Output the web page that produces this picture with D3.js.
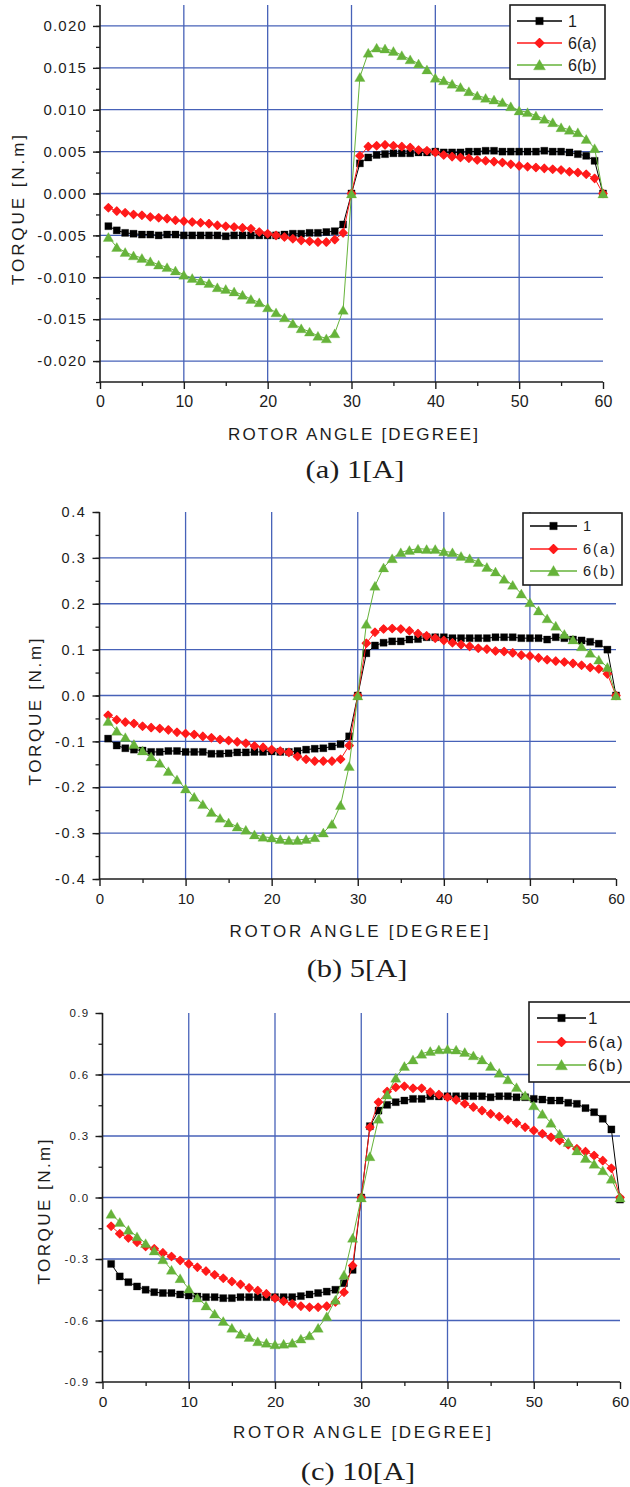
<!DOCTYPE html>
<html>
<head>
<meta charset="utf-8">
<script src="https://cdn.jsdelivr.net/npm/d3@7"></script>
<style>
  body { margin: 0; background: #fff; }
  svg { display: block; }
</style>
</head>
<body>
<div id="chart"></div>
<script>
// rotor angle in degrees (same for every curve)
const angles = [1,2,3,4,5,6,7,8,9,10,11,12,13,14,15,16,17,18,19,20,
  21,22,23,24,25,26,27,28,29,30,31,32,33,34,35,36,37,38,39,40,
  41,42,43,44,45,46,47,48,49,50,51,52,53,54,55,56,57,58,59,60];

const seriesNames = ['1', '6(a)', '6(b)'];

// (a) 1[A]
const torqueA1 = [-0.0039,-0.0044,-0.0047,-0.0048,-0.0049,-0.0049,-0.0050,-0.0049,-0.0049,-0.0050,
  -0.0050,-0.0050,-0.0050,-0.0050,-0.0051,-0.0050,-0.0050,-0.0050,-0.0050,-0.0050,
  -0.0050,-0.0049,-0.0048,-0.0048,-0.0047,-0.0047,-0.0046,-0.0045,-0.0037,0.0000,
  0.0036,0.0043,0.0046,0.0047,0.0048,0.0048,0.0048,0.0049,0.0049,0.0050,
  0.0049,0.0049,0.0049,0.0050,0.0050,0.0051,0.0051,0.0050,0.0050,0.0050,
  0.0050,0.0050,0.0051,0.0050,0.0050,0.0049,0.0047,0.0045,0.0039,0.0000];
const torqueA6a = [-0.0017,-0.0021,-0.0023,-0.0025,-0.0026,-0.0028,-0.0029,-0.0030,-0.0032,-0.0033,
  -0.0034,-0.0035,-0.0036,-0.0038,-0.0039,-0.0040,-0.0041,-0.0042,-0.0046,-0.0048,
  -0.0050,-0.0052,-0.0054,-0.0056,-0.0057,-0.0058,-0.0058,-0.0055,-0.0047,0.0000,
  0.0045,0.0056,0.0057,0.0058,0.0057,0.0056,0.0055,0.0052,0.0051,0.0049,
  0.0046,0.0044,0.0043,0.0042,0.0040,0.0039,0.0038,0.0037,0.0035,0.0033,
  0.0032,0.0031,0.0030,0.0029,0.0028,0.0026,0.0025,0.0023,0.0018,0.0000];
const torqueA6b = [-0.0052,-0.0064,-0.0070,-0.0074,-0.0077,-0.0081,-0.0085,-0.0088,-0.0092,-0.0097,
  -0.0101,-0.0104,-0.0107,-0.0112,-0.0114,-0.0117,-0.0121,-0.0126,-0.0130,-0.0136,
  -0.0142,-0.0148,-0.0155,-0.0161,-0.0165,-0.0170,-0.0173,-0.0167,-0.0139,0.0000,
  0.0139,0.0168,0.0174,0.0173,0.0170,0.0165,0.0160,0.0155,0.0148,0.0138,
  0.0135,0.0131,0.0127,0.0122,0.0117,0.0114,0.0112,0.0109,0.0104,0.0099,
  0.0097,0.0093,0.0089,0.0085,0.0079,0.0076,0.0073,0.0065,0.0054,0.0000];

// (b) 5[A]
const torqueB1 = [-0.094,-0.109,-0.115,-0.118,-0.120,-0.123,-0.123,-0.121,-0.121,-0.123,
  -0.123,-0.123,-0.127,-0.127,-0.126,-0.124,-0.124,-0.123,-0.123,-0.122,
  -0.123,-0.123,-0.121,-0.118,-0.116,-0.115,-0.111,-0.106,-0.089,0.000,
  0.092,0.109,0.115,0.118,0.118,0.122,0.123,0.127,0.127,0.127,
  0.125,0.125,0.125,0.125,0.125,0.127,0.127,0.127,0.125,0.125,
  0.125,0.122,0.127,0.125,0.122,0.120,0.117,0.113,0.100,0.000];
const torqueB6a = [-0.043,-0.053,-0.058,-0.061,-0.067,-0.070,-0.072,-0.075,-0.080,-0.083,
  -0.085,-0.089,-0.092,-0.096,-0.098,-0.101,-0.104,-0.110,-0.113,-0.118,
  -0.121,-0.124,-0.133,-0.139,-0.143,-0.143,-0.143,-0.139,-0.109,0.000,
  0.114,0.138,0.145,0.146,0.145,0.141,0.135,0.130,0.125,0.120,
  0.115,0.111,0.107,0.103,0.101,0.097,0.096,0.093,0.088,0.086,
  0.082,0.078,0.075,0.073,0.070,0.066,0.061,0.058,0.047,0.000];
const torqueB6b = [-0.056,-0.077,-0.091,-0.106,-0.120,-0.133,-0.147,-0.165,-0.183,-0.203,
  -0.221,-0.237,-0.254,-0.267,-0.277,-0.286,-0.293,-0.303,-0.308,-0.310,
  -0.313,-0.315,-0.315,-0.313,-0.309,-0.299,-0.280,-0.239,-0.154,0.000,
  0.156,0.239,0.279,0.299,0.312,0.317,0.320,0.319,0.319,0.314,
  0.312,0.304,0.299,0.291,0.280,0.270,0.254,0.241,0.222,0.203,
  0.185,0.168,0.152,0.134,0.122,0.107,0.093,0.078,0.062,0.000];

// (c) 10[A]
const torqueC1 = [-0.324,-0.385,-0.413,-0.434,-0.450,-0.462,-0.466,-0.466,-0.473,-0.478,
  -0.483,-0.486,-0.486,-0.491,-0.491,-0.486,-0.486,-0.486,-0.486,-0.486,
  -0.486,-0.486,-0.481,-0.473,-0.466,-0.459,-0.450,-0.418,-0.353,0.000,
  0.348,0.424,0.452,0.465,0.473,0.481,0.481,0.494,0.493,0.494,
  0.494,0.494,0.494,0.494,0.489,0.494,0.494,0.489,0.489,0.481,
  0.478,0.473,0.473,0.462,0.457,0.436,0.416,0.384,0.332,-0.010];
const torqueC6a = [-0.140,-0.177,-0.197,-0.218,-0.239,-0.250,-0.270,-0.288,-0.307,-0.324,
  -0.340,-0.359,-0.377,-0.394,-0.410,-0.424,-0.441,-0.454,-0.470,-0.491,
  -0.506,-0.519,-0.530,-0.535,-0.535,-0.530,-0.510,-0.462,-0.332,0.000,
  0.343,0.465,0.517,0.538,0.543,0.533,0.533,0.514,0.502,0.489,
  0.476,0.457,0.441,0.424,0.408,0.395,0.379,0.364,0.343,0.327,
  0.311,0.294,0.278,0.257,0.238,0.224,0.205,0.180,0.143,0.000];
const torqueC6b = [-0.080,-0.120,-0.158,-0.190,-0.223,-0.259,-0.302,-0.353,-0.394,-0.445,
  -0.489,-0.527,-0.567,-0.603,-0.636,-0.665,-0.681,-0.702,-0.709,-0.717,
  -0.714,-0.709,-0.689,-0.673,-0.636,-0.580,-0.499,-0.377,-0.197,0.000,
  0.201,0.384,0.502,0.584,0.641,0.673,0.701,0.714,0.722,0.724,
  0.721,0.709,0.693,0.673,0.641,0.608,0.576,0.538,0.498,0.449,
  0.408,0.364,0.311,0.270,0.229,0.192,0.164,0.132,0.091,0.000];

const angleTicks = [0, 10, 20, 30, 40, 50, 60];
const torqueTicksA = [-0.020, -0.015, -0.010, -0.005, 0.000, 0.005, 0.010, 0.015, 0.020];
const torqueTicksB = [-0.4, -0.3, -0.2, -0.1, 0.0, 0.1, 0.2, 0.3, 0.4];
const torqueTicksC = [-0.9, -0.6, -0.3, 0.0, 0.3, 0.6, 0.9];
const captions = ['(a) 1[A]', '(b) 5[A]', '(c) 10[A]'];

const W = 630, H = 1487;
const gridColor = '#4762b8';
const inkColor = '#1c1c1c';
const colors = ['#000000', '#ff1a1a', '#66b33a'];

const locale = d3.formatLocale({decimal: '.', thousands: ',', grouping: [3], currency: ['', ''], minus: '-'});

const panels = [
  { series: [torqueA1, torqueA6a, torqueA6b], ticks: torqueTicksA, domain: [-0.0225, 0.0225], minor: 0.0025,
    fmt: locale.format('.3f'), caption: captions[0],
    x0: 100, x1: 603, yTop: 5, yBot: 382, tickFont: 15, tickLs: 1.2, xTickFont: 16,
    yTitle: { x: 24, cy: 210, len: 150 }, xTitle: { cx: 353, y: 440, len: 250 }, cap: { cx: 355, y: 478, sx: 1.22 },
    legend: { x: 510, y: 5, w: 95, h: 74, rows: [16, 38, 60], l0: 7, l1: 52, tx: 58, font: 16, ls: 0 } },
  { series: [torqueB1, torqueB6a, torqueB6b], ticks: torqueTicksB, domain: [-0.4, 0.4], minor: 0.05,
    fmt: locale.format('.1f'), caption: captions[1],
    x0: 99.5, x1: 616, yTop: 512, yBot: 879, tickFont: 14.5, tickLs: 1.6, xTickFont: 15,
    yTitle: { x: 41, cy: 712, len: 147 }, xTitle: { cx: 359, y: 937, len: 259 }, cap: { cx: 357, y: 977, sx: 1.22 },
    legend: { x: 523, y: 513, w: 99, h: 72, rows: [13, 36, 58], l0: 7, l1: 54, tx: 60, font: 14.5, ls: 2 } },
  { series: [torqueC1, torqueC6a, torqueC6b], ticks: torqueTicksC, domain: [-0.9, 0.9], minor: 0.15,
    fmt: locale.format('.1f'), caption: captions[2],
    x0: 102.5, x1: 620, yTop: 1013, yBot: 1382, tickFont: 11.5, tickLs: 1.3, xTickFont: 15.5,
    yTitle: { x: 50, cy: 1212, len: 145 }, xTitle: { cx: 362, y: 1438, len: 258 }, cap: { cx: 358, y: 1480, sx: 1.22 },
    legend: { x: 529, y: 1002, w: 110, h: 80, rows: [16, 40, 63], l0: 8, l1: 57, tx: 59, font: 17, ls: 1.5 } }
];

const svg = d3.select('#chart').append('svg')
  .attr('width', W)
  .attr('height', H)
  .style('font-family', '"Liberation Sans", Arial, sans-serif');

const symbolFor = (i, big) => {
  if (i === 0) return d3.symbol().type(d3.symbolSquare).size(big ? 56 : 50)();
  if (i === 1) return d3.symbol().type(d3.symbolSquare).size(big ? 40 : 34)();
  return d3.symbol().type(d3.symbolTriangle).size(big ? 62 : 46)();
};
const markerTransform = (i, px, py) => {
  if (i === 1) return `translate(${px},${py}) rotate(45)`;
  if (i === 2) return `translate(${px},${py + 1.4})`;
  return `translate(${px},${py})`;
};

function drawPanel(p) {
  const x = d3.scaleLinear().domain([0, 60]).range([p.x0, p.x1]);
  const y = d3.scaleLinear().domain(p.domain).range([p.yBot, p.yTop]);
  const g = svg.append('g');

  // grid
  const eps = 1e-9;
  g.append('g').selectAll('line')
    .data(p.ticks.filter(t => t > p.domain[0] + eps && t < p.domain[1] - eps))
    .join('line')
    .attr('x1', p.x0).attr('x2', p.x1)
    .attr('y1', d => y(d)).attr('y2', d => y(d))
    .attr('stroke', gridColor).attr('stroke-width', 1.3);
  g.append('g').selectAll('line')
    .data(angleTicks.filter(t => t > 0 && t < 60))
    .join('line')
    .attr('x1', d => x(d)).attr('x2', d => x(d))
    .attr('y1', p.yTop).attr('y2', p.yBot)
    .attr('stroke', gridColor).attr('stroke-width', 1.3);

  // minor ticks
  const minorY = d3.range(p.domain[0], p.domain[1] + p.minor / 2, p.minor);
  g.append('g')
    .attr('transform', `translate(${p.x0},0)`)
    .call(d3.axisLeft(y).tickValues(minorY).tickSize(4).tickSizeOuter(0).tickFormat(''))
    .call(a => a.select('.domain').remove())
    .call(a => a.selectAll('line').attr('stroke', inkColor).attr('stroke-width', 1.3));
  g.append('g')
    .attr('transform', `translate(0,${p.yBot})`)
    .call(d3.axisBottom(x).tickValues(d3.range(5, 60, 10)).tickSize(4).tickSizeOuter(0).tickFormat(''))
    .call(a => a.select('.domain').remove())
    .call(a => a.selectAll('line').attr('stroke', inkColor).attr('stroke-width', 1.3));

  // major axes
  const yAxis = g.append('g')
    .attr('transform', `translate(${p.x0},0)`)
    .call(d3.axisLeft(y).tickValues(p.ticks).tickSize(7).tickSizeOuter(0).tickPadding(6).tickFormat(p.fmt));
  yAxis.select('.domain').attr('d', `M0,${p.yTop}V${p.yBot}`).attr('stroke', inkColor).attr('stroke-width', 1.6);
  yAxis.selectAll('line').attr('stroke', inkColor).attr('stroke-width', 1.4);
  yAxis.selectAll('text')
    .attr('fill', inkColor)
    .style('font-family', '"Liberation Sans", Arial, sans-serif')
    .style('font-size', p.tickFont + 'px')
    .style('letter-spacing', p.tickLs + 'px');

  const xAxis = g.append('g')
    .attr('transform', `translate(0,${p.yBot})`)
    .call(d3.axisBottom(x).tickValues(angleTicks).tickSize(7).tickSizeOuter(0).tickPadding(7));
  xAxis.select('.domain').attr('d', `M${p.x0},0H${p.x1}`).attr('stroke', inkColor).attr('stroke-width', 1.6);
  xAxis.selectAll('line').attr('stroke', inkColor).attr('stroke-width', 1.4);
  xAxis.selectAll('text')
    .attr('fill', inkColor)
    .style('font-family', '"Liberation Sans", Arial, sans-serif')
    .style('font-size', p.xTickFont + 'px');

  // curves
  p.series.forEach((vals, i) => {
    const pts = angles.map((a, k) => [a, vals[k]]);
    g.append('path')
      .datum(pts)
      .attr('fill', 'none')
      .attr('stroke', colors[i])
      .attr('stroke-width', 1)
      .attr('d', d3.line().x(d => x(d[0])).y(d => y(d[1])));
    g.append('g').selectAll('path')
      .data(pts)
      .join('path')
      .attr('d', symbolFor(i, false))
      .attr('transform', d => markerTransform(i, x(d[0]), y(d[1])))
      .attr('fill', colors[i])
      .attr('stroke', colors[i])
      .attr('stroke-width', i === 1 ? 1.2 : 0.3)
      .attr('stroke-linejoin', 'round');
  });

  // axis titles
  g.append('text')
    .attr('transform', `translate(${p.yTitle.x},${p.yTitle.cy}) rotate(-90)`)
    .attr('text-anchor', 'middle')
    .attr('textLength', p.yTitle.len)
    .attr('lengthAdjust', 'spacing')
    .attr('fill', inkColor)
    .style('font-size', '17px')
    .text('TORQUE [N.m]');
  g.append('text')
    .attr('x', p.xTitle.cx).attr('y', p.xTitle.y)
    .attr('text-anchor', 'middle')
    .attr('textLength', p.xTitle.len)
    .attr('lengthAdjust', 'spacing')
    .attr('fill', inkColor)
    .style('font-size', '17px')
    .text('ROTOR ANGLE [DEGREE]');
  g.append('text')
    .attr('transform', `translate(${p.cap.cx},${p.cap.y}) scale(${p.cap.sx},1)`)
    .attr('text-anchor', 'middle')
    .attr('fill', inkColor)
    .style('font-family', '"Liberation Serif", "DejaVu Serif", serif')
    .style('font-size', '25px')
    .text(p.caption);

  // legend
  const L = p.legend;
  const lg = g.append('g').attr('transform', `translate(${L.x},${L.y})`);
  lg.append('rect')
    .attr('x', 0).attr('y', 0).attr('width', L.w).attr('height', L.h)
    .attr('fill', '#fff').attr('stroke', inkColor).attr('stroke-width', 1.6);
  seriesNames.forEach((name, i) => {
    const ry = L.rows[i];
    lg.append('line')
      .attr('x1', L.l0).attr('x2', L.l1).attr('y1', ry).attr('y2', ry)
      .attr('stroke', colors[i]).attr('stroke-width', 1.3);
    lg.append('path')
      .attr('d', symbolFor(i, true))
      .attr('transform', markerTransform(i, (L.l0 + L.l1) / 2, ry))
      .attr('fill', colors[i]).attr('stroke', colors[i])
      .attr('stroke-width', i === 1 ? 1.2 : 0.3)
      .attr('stroke-linejoin', 'round');
    lg.append('text')
      .attr('x', L.tx).attr('y', ry)
      .attr('dy', '0.36em')
      .attr('fill', inkColor)
      .style('font-size', L.font + 'px')
      .style('letter-spacing', L.ls + 'px')
      .text(name);
  });
}

panels.forEach(drawPanel);
</script>
</body>
</html>
